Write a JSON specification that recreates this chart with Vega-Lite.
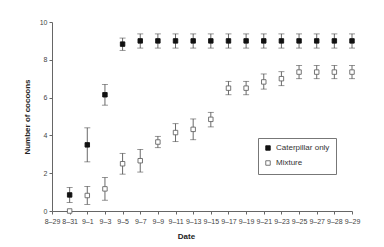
{
  "$schema": "https://vega.github.io/schema/vega-lite/v6.json",
  "width": 300,
  "height": 189,
  "autosize": "none",
  "padding": {"left": 52, "top": 22, "right": 32, "bottom": 36},
  "background": "white",
  "config": {
    "view": {"stroke": null},
    "font": "Liberation Sans",
    "axis": {"labelFont": "Liberation Sans", "titleFont": "Liberation Sans", "labelOverlap": false, "labelFontSize": 7, "labelColor": "#444", "domainColor": "#666", "tickColor": "#666", "tickSize": 3, "grid": false, "titleFontSize": 8, "titleFontWeight": "bold", "titleColor": "#222"},
    "axisY": {"values": [0, 2, 4, 6, 8, 10], "tickCount": 6, "labelPadding": 2, "titlePadding": 8}
  },
  "data": {
    "values": [
      {"date": "8–31", "series": "Caterpillar only", "mean": 0.85, "lo": 0.45, "hi": 1.25},
      {"date": "9–1", "series": "Caterpillar only", "mean": 3.5, "lo": 2.6, "hi": 4.4},
      {"date": "9–3", "series": "Caterpillar only", "mean": 6.15, "lo": 5.6, "hi": 6.7},
      {"date": "9–5", "series": "Caterpillar only", "mean": 8.83, "lo": 8.5, "hi": 9.15},
      {"date": "9–7", "series": "Caterpillar only", "mean": 9.0, "lo": 8.62, "hi": 9.37},
      {"date": "9–9", "series": "Caterpillar only", "mean": 9.0, "lo": 8.62, "hi": 9.37},
      {"date": "9–11", "series": "Caterpillar only", "mean": 9.0, "lo": 8.62, "hi": 9.37},
      {"date": "9–13", "series": "Caterpillar only", "mean": 9.0, "lo": 8.62, "hi": 9.37},
      {"date": "9–15", "series": "Caterpillar only", "mean": 9.0, "lo": 8.62, "hi": 9.37},
      {"date": "9–17", "series": "Caterpillar only", "mean": 9.0, "lo": 8.62, "hi": 9.37},
      {"date": "9–19", "series": "Caterpillar only", "mean": 9.0, "lo": 8.62, "hi": 9.37},
      {"date": "9–21", "series": "Caterpillar only", "mean": 9.0, "lo": 8.62, "hi": 9.37},
      {"date": "9–23", "series": "Caterpillar only", "mean": 9.0, "lo": 8.62, "hi": 9.37},
      {"date": "9–25", "series": "Caterpillar only", "mean": 9.0, "lo": 8.62, "hi": 9.37},
      {"date": "9–27", "series": "Caterpillar only", "mean": 9.0, "lo": 8.62, "hi": 9.37},
      {"date": "9–28", "series": "Caterpillar only", "mean": 9.0, "lo": 8.62, "hi": 9.37},
      {"date": "9–29", "series": "Caterpillar only", "mean": 9.0, "lo": 8.62, "hi": 9.37},
      {"date": "8–31", "series": "Mixture", "mean": 0.0},
      {"date": "9–1", "series": "Mixture", "mean": 0.82, "lo": 0.35, "hi": 1.3},
      {"date": "9–3", "series": "Mixture", "mean": 1.17, "lo": 0.57, "hi": 1.77},
      {"date": "9–5", "series": "Mixture", "mean": 2.5, "lo": 1.95, "hi": 3.05},
      {"date": "9–7", "series": "Mixture", "mean": 2.66, "lo": 2.06, "hi": 3.26},
      {"date": "9–9", "series": "Mixture", "mean": 3.65, "lo": 3.35, "hi": 3.95},
      {"date": "9–11", "series": "Mixture", "mean": 4.15, "lo": 3.67, "hi": 4.62},
      {"date": "9–13", "series": "Mixture", "mean": 4.32, "lo": 3.77, "hi": 4.87},
      {"date": "9–15", "series": "Mixture", "mean": 4.85, "lo": 4.45, "hi": 5.22},
      {"date": "9–17", "series": "Mixture", "mean": 6.5, "lo": 6.15, "hi": 6.86},
      {"date": "9–19", "series": "Mixture", "mean": 6.5, "lo": 6.15, "hi": 6.86},
      {"date": "9–21", "series": "Mixture", "mean": 6.83, "lo": 6.45, "hi": 7.25},
      {"date": "9–23", "series": "Mixture", "mean": 7.0, "lo": 6.63, "hi": 7.37},
      {"date": "9–25", "series": "Mixture", "mean": 7.35, "lo": 7.0, "hi": 7.7},
      {"date": "9–27", "series": "Mixture", "mean": 7.35, "lo": 7.0, "hi": 7.7},
      {"date": "9–28", "series": "Mixture", "mean": 7.35, "lo": 7.0, "hi": 7.7},
      {"date": "9–29", "series": "Mixture", "mean": 7.35, "lo": 7.0, "hi": 7.7}
    ]
  },
  "encoding": {
    "x": {
      "field": "date",
      "type": "ordinal",
      "scale": {"type": "point", "padding": 0, "domain": ["8–29","8–31","9–1","9–3","9–5","9–7","9–9","9–11","9–13","9–15","9–17","9–19","9–21","9–23","9–25","9–27","9–28","9–29"]},
      "axis": {
        "title": "Date",
        "titleX": 134,
        "titlePadding": 8,
        "labelAngle": 0,
        "labelPadding": 3
      }
    }
  },
  "layer": [
    {
      "mark": {"type": "rule", "color": "#444", "strokeWidth": 0.8},
      "encoding": {
        "y": {
          "field": "lo",
          "type": "quantitative",
          "scale": {"domain": [0, 10], "nice": false},
          "axis": {"title": "Number of cocoons", "values": [0, 2, 4, 6, 8, 10], "labelOverlap": false}
        },
        "y2": {"field": "hi"}
      }
    },
    {
      "mark": {"type": "tick", "orient": "horizontal", "size": 6, "thickness": 0.8, "color": "#444"},
      "encoding": {"y": {"field": "lo", "type": "quantitative"}}
    },
    {
      "mark": {"type": "tick", "orient": "horizontal", "size": 6, "thickness": 0.8, "color": "#444"},
      "encoding": {"y": {"field": "hi", "type": "quantitative"}}
    },
    {
      "mark": {"type": "point", "shape": "square", "size": 20, "filled": false, "opacity": 1, "strokeWidth": 0.9},
      "encoding": {
        "y": {"field": "mean", "type": "quantitative"},
        "fill": {
          "field": "series",
          "type": "nominal",
          "scale": {"domain": ["Caterpillar only", "Mixture"], "range": ["#111111", "#ffffff"]},
          "legend": {
            "title": null,
            "orient": "none",
            "legendX": 206,
            "legendY": 116,
            "strokeColor": "#777",
            "padding": 6,
            "labelFontSize": 8,
            "labelColor": "#333",
            "symbolSize": 20,
            "symbolType": "square",
            "symbolStrokeWidth": 0.9,
            "rowPadding": 5,
            "labelOffset": 4
          }
        },
        "stroke": {
          "field": "series",
          "type": "nominal",
          "scale": {"domain": ["Caterpillar only", "Mixture"], "range": ["#111111", "#666666"]}
        }
      }
    }
  ]
}
